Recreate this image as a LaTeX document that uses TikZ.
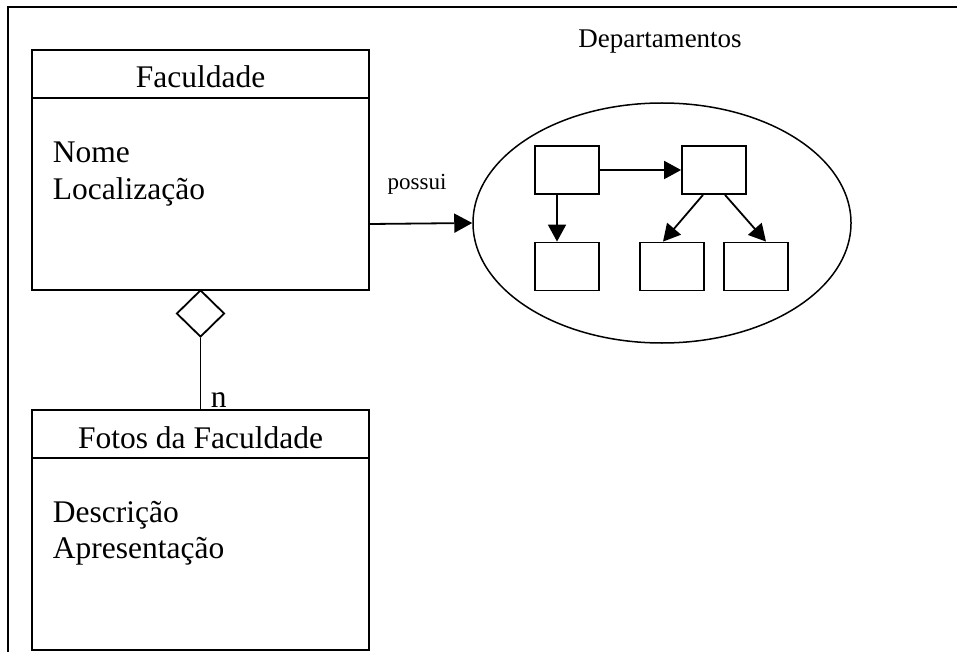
\documentclass[tikz,border=0pt]{standalone}
\usepackage{fontspec}
\setmainfont{Liberation Serif}
\usetikzlibrary{shapes.geometric,arrows.meta}
\begin{document}
\begin{tikzpicture}[x=1pt,y=-1pt,
  line width=1.8pt,
  classbox/.style={draw,rectangle,minimum width=337pt,minimum height=240pt,inner sep=0pt},
  deptbox/.style={draw,rectangle,minimum width=64pt,minimum height=48pt,inner sep=0pt},
  bigtxt/.style={inner sep=0pt,font=\fontsize{31.5}{36}\selectfont},
  tip/.style={-{Triangle[length=18pt,width=19pt]}},
  smalltip/.style={-{Triangle[length=17pt,width=18pt]}}]
\useasboundingbox (0,0) rectangle (957,652);
% outer frame (top and left edges)
\draw[line width=2pt] (8,652) -- (8,7) -- (957,7);

% class Faculdade
\node[classbox] (fac) at (200.5,170) {};
\draw (fac.west |- 0,98) -- (fac.east |- 0,98);
\node[bigtxt,anchor=base] (facname) at (200.5,88) {Faculdade};
\node[bigtxt,anchor=base west] (facnome) at (52,163) {Nome};
\node[bigtxt,anchor=base west] (facloc) at (52,200) {Localização};

% aggregation diamond and class Fotos da Faculdade
\node[draw,diamond,minimum width=48pt,minimum height=47pt,inner sep=0pt] (agg) at (200.5,313.5) {};
\node[classbox] (fot) at (200.5,530) {};
\draw (fot.west |- 0,458) -- (fot.east |- 0,458);
\node[bigtxt,anchor=base] (fotname) at (200.5,448) {Fotos da Faculdade};
\node[bigtxt,anchor=base west] (fotdesc) at (52,522) {Descrição};
\node[bigtxt,anchor=base west] (fotapr) at (52,558) {Apresentação};
\draw (agg.south) -- (agg.south |- fot.north);
\node[bigtxt,anchor=base west] (mult) at (210,407) {n};

% Departamentos
\node[draw,ellipse,line width=1.5pt,minimum width=378pt,minimum height=240pt,inner sep=0pt] (dept) at (662,223) {};
\node[inner sep=0pt,anchor=base,font=\fontsize{27}{31}\selectfont] (depttitle) at (660,48) {Departamentos};
\draw[tip] (fac.east |- 0,224) -- (dept.west);
\node[inner sep=0pt,anchor=base,font=\fontsize{23}{27}\selectfont] (possui) at (417,190) {possui};

\node[deptbox] (da) at (567,170) {};
\node[deptbox] (db) at (714,170) {};
\node[deptbox] (dc) at (567,266.5) {};
\node[deptbox] (dd) at (672,266.5) {};
\node[deptbox] (de) at (756,266.5) {};
\draw[smalltip] (da.east) -- (db.west);
\draw[smalltip] ([xshift=-10pt]da.south) -- ([xshift=-10pt]dc.north);
\draw[smalltip] ([xshift=-11pt]db.south) -- ([xshift=-9pt]dd.north);
\draw[smalltip] ([xshift=11pt]db.south) -- ([xshift=10pt]de.north);
\end{tikzpicture}
\end{document}
